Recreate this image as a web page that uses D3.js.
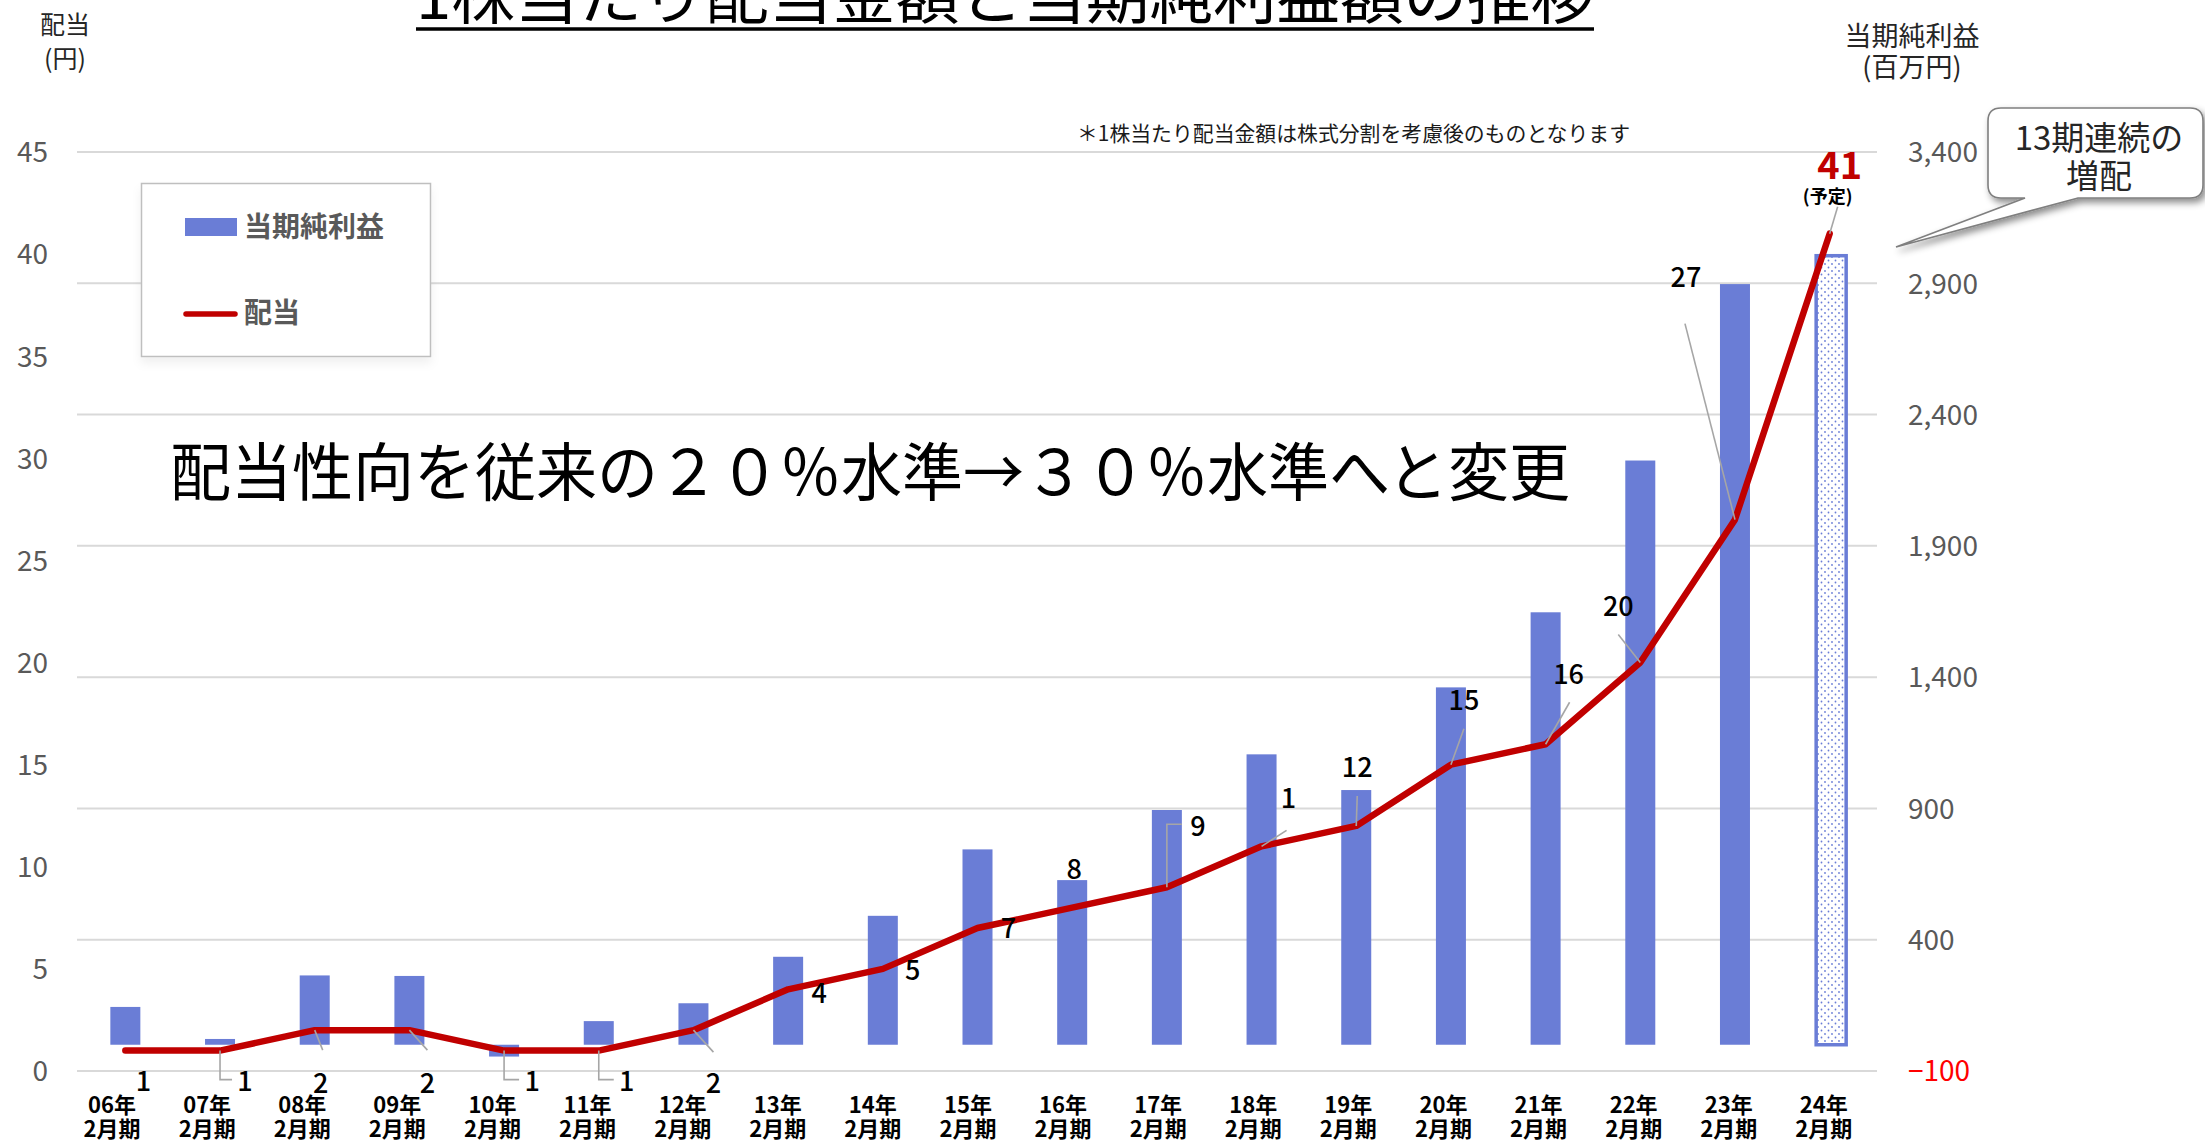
<!DOCTYPE html>
<html>
<head>
<meta charset="utf-8">
<script src="https://cdn.jsdelivr.net/npm/d3@7"></script>
<style>
  html, body { margin: 0; padding: 0; background: #ffffff; }
  svg { display: block; }
  text { font-family: 'Noto Sans CJK JP', 'Noto Sans', sans-serif; }
</style>
</head>
<body>
<div id="chart"></div>
<script>
// ---------------- data ----------------
const categories = ["06年","07年","08年","09年","10年","11年","12年","13年","14年","15年","16年","17年","18年","19年","20年","21年","22年","23年","24年"];
const periodLabel = "2月期";
const netIncome = [144, 22, 264, 262, -45, 90, 158, 335, 491, 744, 627, 894, 1106, 970, 1361, 1647, 2225, 2897, 3005];
const dividend = [1, 1, 2, 2, 1, 1, 2, 4, 5, 7, 8, 9, 11, 12, 15, 16, 20, 27, 41];
const dividendLabels = ["1","1","2","2","1","1","2","4","5","7","8","9","1","12","15","16","20","27","41"];
const leftTicks = [0, 5, 10, 15, 20, 25, 30, 35, 40, 45];
const rightTicks = [-100, 400, 900, 1400, 1900, 2400, 2900, 3400];
const titleText = "1株当たり配当金額と当期純利益額の推移";
const noteText = "＊1株当たり配当金額は株式分割を考慮後のものとなります";
const messageText = "配当性向を従来の２０％水準→３０％水準へと変更";
const calloutLines = ["13期連続の", "増配"];
const forecastLabel = "(予定)";
const legendNames = ["当期純利益", "配当"];

// ---------------- layout (label offsets relative to the line point) ----------------
const labelLayout = [
  {dx: 18, dy: 31},
  {dx: 25, dy: 31, elbow: [29, 12]},
  {dx: 6, dy: 53, line: [8, 20]},
  {dx: 18, dy: 53, line: [18, 20]},
  {dx: 28, dy: 31, elbow: [29, 15]},
  {dx: 28, dy: 31, elbow: [29, 15]},
  {dx: 20, dy: 53, line: [20, 22]},
  {dx: 31, dy: 4},
  {dx: 30, dy: 2},
  {dx: 31, dy: 1},
  {dx: 2, dy: -38},
  {dx: 31, dy: -61, elbow: [-63, 15]},
  {dx: 27, dy: -48, line: [25, -16]},
  {dx: 1, dy: -58, line: [1, -30]},
  {dx: 13, dy: -64, line: [13, -36]},
  {dx: 23, dy: -70, line: [24, -42]},
  {dx: -22, dy: -56, line: [-22, -28]},
  {dx: -49, dy: -242, line: [-50, -196]},
  {dx: 10, dy: -68, line: [8, -27]}
];

const W = 2205, H = 1143;
const BLUE = "#6a7dd6", RED = "#c00000", GREY = "#595959";

const svg = d3.select("#chart").append("svg")
  .attr("width", W).attr("height", H).attr("viewBox", `0 0 ${W} ${H}`);
svg.append("rect").attr("width", W).attr("height", H).attr("fill", "#ffffff");

const defs = svg.append("defs");
const pat = defs.append("pattern").attr("id", "dots")
  .attr("patternUnits", "userSpaceOnUse").attr("width", 7).attr("height", 7);
pat.append("rect").attr("width", 7).attr("height", 7).attr("fill", "#ffffff");
pat.append("circle").attr("cx", 1.5).attr("cy", 1.5).attr("r", 0.9).attr("fill", BLUE);
pat.append("circle").attr("cx", 5).attr("cy", 5).attr("r", 0.9).attr("fill", BLUE);

const sh = defs.append("filter").attr("id", "shadow").attr("x", "-20%").attr("y", "-20%").attr("width", "150%").attr("height", "160%");
sh.append("feDropShadow").attr("dx", 3).attr("dy", 4).attr("stdDeviation", 3.5)
  .attr("flood-color", "#000").attr("flood-opacity", 0.45);
const sh2 = defs.append("filter").attr("id", "lshadow").attr("x", "-10%").attr("y", "-10%").attr("width", "120%").attr("height", "130%");
sh2.append("feDropShadow").attr("dx", 0).attr("dy", 6).attr("stdDeviation", 5)
  .attr("flood-color", "#000").attr("flood-opacity", 0.06);

// ---------------- scales ----------------
const x = d3.scalePoint().domain(categories).range([78, 1877]).padding(0.5);
const xLabel = d3.scalePoint().domain(categories).range([64.5, 1871.4]).padding(0.5);
const yL = d3.scaleLinear().domain([0, 45]).range([1071, 152]);
const yR = d3.scaleLinear().domain([-100, 3400]).range([1071, 152]);
const barW = 30;

// ---------------- gridlines ----------------
svg.append("g").selectAll("line").data(rightTicks).join("line")
  .attr("x1", 77).attr("x2", 1877)
  .attr("y1", d => yR(d)).attr("y2", d => yR(d))
  .attr("stroke", "#d9d9d9").attr("stroke-width", 2);

// ---------------- axes ----------------
const leftAxis = d3.axisLeft(yL).tickValues(leftTicks).tickSize(0).tickPadding(0);
const gL = svg.append("g").attr("transform", "translate(48,0)").call(leftAxis);
gL.select(".domain").remove();
gL.selectAll("text").attr("font-size", 28).attr("fill", GREY)
  .attr("font-family", "'Noto Sans CJK JP', sans-serif").attr("dy", "0.35em");

const rightAxis = d3.axisRight(yR).tickValues(rightTicks).tickSize(0).tickPadding(0)
  .tickFormat(d3.format(","));
const gR = svg.append("g").attr("transform", "translate(1908,0)").call(rightAxis);
gR.select(".domain").remove();
gR.selectAll("text").attr("font-size", 28)
  .attr("fill", d => d < 0 ? "#ff0000" : GREY)
  .attr("font-family", "'Noto Sans CJK JP', sans-serif").attr("dy", "0.35em");

// category axis (two-line labels in one text element)
const catText = svg.append("g").selectAll("text").data(categories).join("text")
  .attr("text-anchor", "middle").attr("font-size", 22).attr("font-weight", "bold").attr("fill", "#000");
catText.append("tspan").attr("x", d => xLabel(d)).attr("y", 1113).text(d => d);
catText.append("tspan").attr("x", d => xLabel(d)).attr("y", 1137).text(periodLabel);

// ---------------- bars ----------------
const last = categories.length - 1;
svg.append("g").selectAll("rect").data(netIncome).join("rect")
  .attr("x", (d, i) => x(categories[i]) - barW / 2 + (i === last ? 1.5 : 0))
  .attr("width", barW)
  .attr("y", d => Math.min(yR(d), yR(0)))
  .attr("height", d => Math.abs(yR(d) - yR(0)))
  .attr("fill", (d, i) => i === last ? "url(#dots)" : BLUE)
  .attr("stroke", (d, i) => i === last ? BLUE : "none")
  .attr("stroke-width", (d, i) => i === last ? 3.5 : 0);

// ---------------- dividend line ----------------
const pts = dividend.map((d, i) => [x(categories[i]), yL(d)]);
svg.append("path").attr("d", d3.line()(pts))
  .attr("fill", "none").attr("stroke", RED).attr("stroke-width", 6.5)
  .attr("stroke-linejoin", "round").attr("stroke-linecap", "round");

// ---------------- leader lines ----------------
const gLead = svg.append("g").attr("fill", "none").attr("stroke", "#a6a6a6").attr("stroke-width", 1.6);
labelLayout.forEach((l, i) => {
  const [px, py] = pts[i];
  if (l.line) {
    gLead.append("path").attr("d", `M${px},${py}L${px + l.line[0]},${py + l.line[1]}`);
  } else if (l.elbow) {
    gLead.append("path").attr("d", `M${px},${py}V${py + l.elbow[0]}H${px + l.elbow[1]}`);
  }
});

// ---------------- data labels ----------------
svg.append("g").selectAll("text").data(dividendLabels).join("text")
  .attr("x", (d, i) => pts[i][0] + labelLayout[i].dx)
  .attr("y", (d, i) => pts[i][1] + labelLayout[i].dy)
  .attr("dy", "0.35em").attr("text-anchor", "middle")
  .attr("font-size", (d, i) => i === last ? 38 : 27)
  .attr("font-weight", (d, i) => i === last ? "bold" : 500)
  .attr("fill", (d, i) => i === last ? RED : "#000")
  .text(d => d);
svg.append("text")
  .attr("x", pts[last][0] - 2).attr("y", pts[last][1] - 37).attr("dy", "0.35em")
  .attr("text-anchor", "middle").attr("font-size", 18).attr("font-weight", "bold").attr("fill", "#000")
  .text(forecastLabel);

// ---------------- legend ----------------
const lg = svg.append("g");
lg.append("rect").attr("x", 141.5).attr("y", 183.5).attr("width", 289).attr("height", 173)
  .attr("fill", "#fff").attr("stroke", "#bfbfbf").attr("stroke-width", 1.5).attr("filter", "url(#lshadow)");
lg.append("rect").attr("x", 185).attr("y", 218).attr("width", 52).attr("height", 18).attr("fill", BLUE);
lg.append("text").attr("x", 244).attr("y", 227).attr("dy", "0.35em").attr("font-size", 28)
  .attr("font-weight", "bold").attr("fill", GREY).text(legendNames[0]);
lg.append("line").attr("x1", 186).attr("x2", 235).attr("y1", 314).attr("y2", 314)
  .attr("stroke", RED).attr("stroke-width", 5.5).attr("stroke-linecap", "round");
lg.append("text").attr("x", 244).attr("y", 313).attr("dy", "0.35em").attr("font-size", 28)
  .attr("font-weight", "bold").attr("fill", GREY).text(legendNames[1]);

// ---------------- axis titles ----------------
svg.append("text").attr("x", 65).attr("y", 25).attr("dy", "0.35em").attr("text-anchor", "middle")
  .attr("font-size", 25).attr("fill", "#262626").text("配当");
svg.append("text").attr("x", 65).attr("y", 59).attr("dy", "0.35em").attr("text-anchor", "middle")
  .attr("font-size", 25).attr("fill", "#262626").text("(円)");
svg.append("text").attr("x", 1912).attr("y", 37).attr("dy", "0.35em").attr("text-anchor", "middle")
  .attr("font-size", 27).attr("fill", "#262626").text("当期純利益");
svg.append("text").attr("x", 1912).attr("y", 68).attr("dy", "0.35em").attr("text-anchor", "middle")
  .attr("font-size", 27).attr("fill", "#262626").text("(百万円)");

// ---------------- title ----------------
svg.append("text").attr("x", 416).attr("y", 19)
  .attr("font-size", 62).attr("fill", "#000")
  .attr("textLength", 1178).attr("lengthAdjust", "spacingAndGlyphs")
  .text(titleText);
svg.append("line").attr("x1", 416).attr("x2", 1594).attr("y1", 29).attr("y2", 29)
  .attr("stroke", "#000").attr("stroke-width", 3.5);

// ---------------- note ----------------
svg.append("text").attr("x", 1077).attr("y", 141)
  .attr("font-size", 21).attr("fill", "#1a1a1a")
  .attr("textLength", 553).attr("lengthAdjust", "spacingAndGlyphs")
  .text(noteText);

// ---------------- message ----------------
svg.append("text").attr("x", 170).attr("y", 495)
  .attr("font-size", 63).attr("fill", "#000")
  .attr("textLength", 1400).attr("lengthAdjust", "spacingAndGlyphs")
  .text(messageText);

// ---------------- callout ----------------
const bx0 = 1988, bx1 = 2203, by0 = 108, by1 = 198, r = 13;
const tip = [1896, 247];
const calloutPath = `M${bx0 + r},${by0} H${bx1 - r} Q${bx1},${by0} ${bx1},${by0 + r} V${by1 - r} Q${bx1},${by1} ${bx1 - r},${by1}
  H2078 L${tip[0]},${tip[1]} L2025,${by1} H${bx0 + r} Q${bx0},${by1} ${bx0},${by1 - r} V${by0 + r} Q${bx0},${by0} ${bx0 + r},${by0} Z`;
svg.append("path").attr("d", calloutPath).attr("fill", "#fff")
  .attr("stroke", "#7f7f7f").attr("stroke-width", 1.6).attr("filter", "url(#shadow)");
svg.append("g").selectAll("text").data(calloutLines).join("text")
  .attr("x", 2099).attr("y", (d, i) => 138 + i * 38).attr("dy", "0.35em")
  .attr("text-anchor", "middle").attr("font-size", 33).attr("fill", "#262626")
  .text(d => d);
</script>
</body>
</html>
